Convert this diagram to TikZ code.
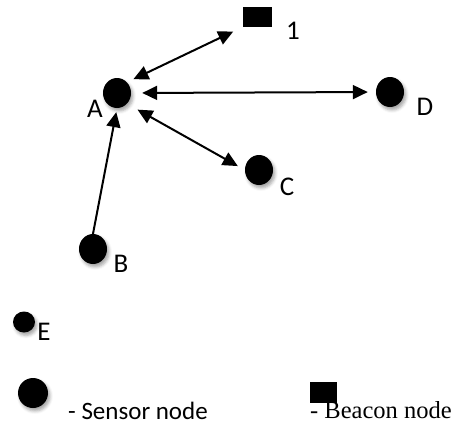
\documentclass[tikz,border=0pt]{standalone}
\usepackage{fontspec}
\setsansfont{Carlito}
\newfontfamily\legendserif{Liberation Serif}
\usetikzlibrary{arrows.meta,shapes.geometric,shadows.blur}

\tikzset{
  sensor/.style={ellipse, fill=black, inner sep=0pt,
    minimum width=28pt, minimum height=30pt,
    blur shadow={shadow xshift=2pt, shadow yshift=-3pt,
      shadow opacity=35, shadow blur radius=3pt}},
  beacon/.style={rectangle, fill=black, inner sep=0pt,
    minimum width=29pt, minimum height=20pt},
  lbl/.style={font=\sffamily\fontsize{27}{27}\selectfont, anchor=base, inner sep=0pt},
  tip/.style={Triangle[length=15pt,width=14pt]},
  link/.style={line width=2pt, {Triangle[length=15pt,width=14pt]}-{Triangle[length=15pt,width=14pt]}},
  uplink/.style={line width=2pt, -{Triangle[length=15pt,width=14pt]}}
}

\begin{document}
\begin{tikzpicture}[x=1pt,y=-1pt]
  \useasboundingbox (0,0) rectangle (453,424);

  % nodes of the network
  \node[sensor] (A) at (117,93) {};   \node[lbl] (lA) at (95,117) {A};
  \node[beacon] (b1) at (257,17) {};  \node[lbl] (l1) at (293,39) {1};
  \node[sensor] (D) at (390,92) {};   \node[lbl] (lD) at (425,115) {D};
  \node[sensor] (C) at (259,170) {};  \node[lbl] (lC) at (287,195) {C};
  \node[sensor] (B) at (93,249) {};   \node[lbl] (lB) at (121,272) {B};
  \node[sensor, minimum width=22pt, minimum height=21pt] (E) at (24,322) {};
  \node[lbl] (lE) at (44,340) {E};

  % links
  \draw[link, shorten <=7pt, shorten >=10pt] (A.north east) -- (b1.south west);
  \draw[link, shorten <=11pt, shorten >=8pt] (A.east) -- (D.west);
  \draw[link, shorten <=12pt, shorten >=8pt] (A.south east) -- (C.west);
  \draw[uplink, shorten <=-2pt, shorten >=4pt] (B.north) -- (A.south);

  % legend
  \node[sensor, minimum width=30pt] (ls) at (33,393) {};
  \node[lbl, anchor=base west, font=\sffamily\fontsize{25}{25}\selectfont]
    (lst) at (68,419) {- Sensor node};
  \node[beacon, minimum width=27pt, minimum height=21pt] (lb) at (323.5,392.5) {};
  \node[lbl, anchor=base west, font=\legendserif\fontsize{24.5}{24.5}\selectfont]
    (lbt) at (310,418) {- Beacon node};
\end{tikzpicture}
\end{document}
